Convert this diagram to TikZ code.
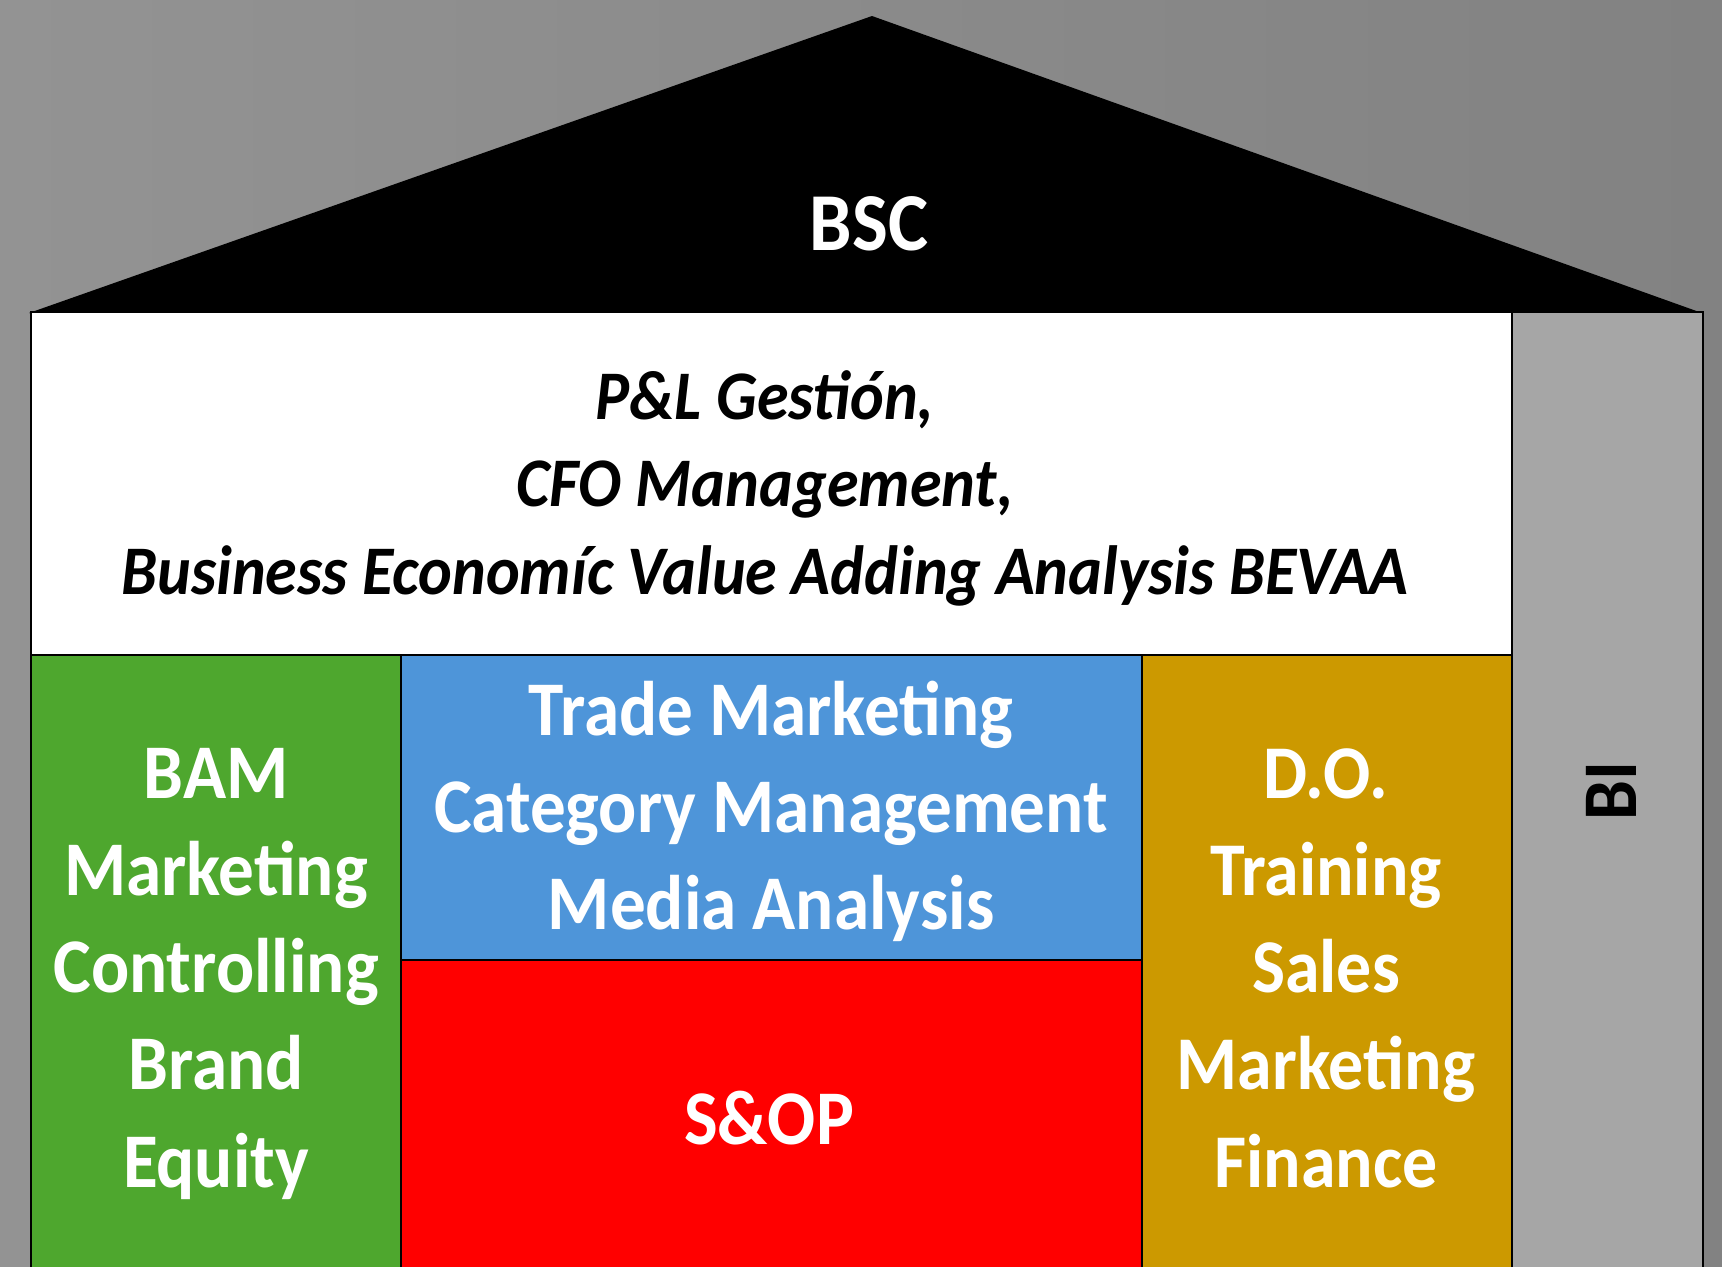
\documentclass[tikz,border=0pt]{standalone}
\usepackage{fontspec}
\setmainfont{Carlito}[FakeStretch=0.92]
\usepackage{xcolor}
\usepackage{tikz}
\usetikzlibrary{positioning}
\definecolor{bamgreen}{HTML}{4EA72E}
\definecolor{tradeblue}{HTML}{4E95D9}
\definecolor{sopred}{HTML}{FF0000}
\definecolor{dogold}{HTML}{CC9900}
\definecolor{bigray}{HTML}{A6A6A6}
\definecolor{bgleft}{HTML}{939393}
\definecolor{bgright}{HTML}{828282}

\begin{document}
\begin{tikzpicture}[x=0.01cm,y=-0.01cm,
    block/.style={draw,line width=0.6pt,inner sep=0pt,outer sep=0pt,anchor=north west},
    lbl/.style={text=white,align=center,inner sep=0pt,anchor=base,font=\bfseries\fontsize{22}{27.6}\selectfont}]
  \shade[left color=bgleft,right color=bgright] (0,0) rectangle (1722,1266);
  \useasboundingbox (0,0) rectangle (1722,1266);
  \fill (29,313) -- (872,16) -- (1702,313) -- cycle;
  \node[text=white,font=\bfseries\fontsize{23.4}{28}\selectfont] (bsc) at (869,224) {BSC};

  \node[block,fill=white,minimum width=14.8cm,minimum height=3.43cm] (pl) at (31,312) {};
  \node[block,fill=bamgreen,minimum width=3.7cm,minimum height=6.4cm] (bam) at (pl.south west) {};
  \node[block,fill=tradeblue,minimum width=7.4cm,minimum height=3.05cm] (trade) at (bam.north east) {};
  \node[block,fill=sopred,minimum width=7.4cm,minimum height=3.35cm] (sop) at (trade.south west) {};
  \node[block,fill=dogold,minimum width=3.7cm,minimum height=6.4cm] (do) at (trade.north east) {};
  \node[block,fill=bigray,minimum width=1.91cm,minimum height=9.83cm] (bi) at (pl.north east) {};

  \node[lbl,text=black,font=\bfseries\itshape\fontsize{19.8}{24.75}\selectfont] (pltxt) at (765,594)
    {P\&L Gestión,\\CFO Management,\\Business Economíc Value Adding Analysis BEVAA};
  \node[lbl] (bamtxt) at (216,1187) {BAM\\Marketing\\Controlling\\Brand\\Equity};
  \node[lbl,font=\bfseries\fontsize{22}{27.45}\selectfont] (tradetxt) at (771,929)
    {Trade Marketing\\Category Management\\Media Analysis};
  \node[lbl] (soptxt) at (769,1144) {S\&OP};
  \node[lbl,font=\bfseries\fontsize{21.6}{27.6}\selectfont] (dotxt) at (1326,1187) {D.O.\\Training\\Sales\\Marketing\\Finance};
  \node[lbl,text=black,rotate=90,anchor=center] (bitxt) at (1611,791) {BI};
\end{tikzpicture}
\end{document}
